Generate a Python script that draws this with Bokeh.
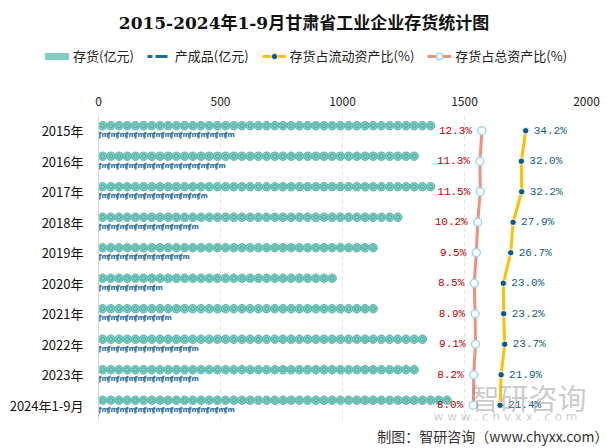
import numpy as np
from bokeh.plotting import figure
from bokeh.models import (ColumnDataSource, FactorRange, Range1d, Label, Title,
                          Legend, LegendItem, FixedTicker)
from bokeh.transform import dodge
from bokeh.core.properties import value
from bokeh.embed import file_html
from bokeh.resources import INLINE

# ---------------- data ----------------
years = ["2015年", "2016年", "2017年", "2018年", "2019年", "2020年",
         "2021年", "2022年", "2023年", "2024年1-9月"]
inventory = [1372, 1337, 1402, 1237, 1147, 976, 1147, 1341, 1334, 1470]   # 亿元
finished = [542, 511, 433, 424, 362, 265, 317, 413, 413, 542]             # 亿元
ratio_current = [34.2, 32.0, 32.2, 27.9, 26.7, 23.0, 23.2, 23.7, 21.9, 21.4]
ratio_total = [12.3, 11.3, 11.5, 10.2, 9.5, 8.5, 8.9, 9.1, 8.2, 8.0]
x_ticks = [0, 500, 1000, 1500, 2000]

CJK = "Noto Sans CJK SC"
MONO = "Liberation Mono"
TEAL, TEAL_D = "#7fcdc3", "#55b3a8"
BLUE = "#1d6c9a"
YEL, DOT = "#ffc000", "#0d5c80"
SALMON, RING = "#ef907d", "#9cd6ef"

W, H_TOP, H_MAIN = 607, 88, 360
LEFT = 98

# ---------------- header figure (title + legend), its own root ----------------
top = figure(width=W, height=H_TOP, output_backend="svg", toolbar_location=None,
             x_range=Range1d(0, 1), y_range=Range1d(0, 1),
             x_axis_type=None, y_axis_type=None,
             min_border=0, min_border_left=0, min_border_right=0,
             min_border_top=0, min_border_bottom=0)
top.grid.visible = False
top.outline_line_color = None
top.background_fill_color = "white"
top.border_fill_color = "white"

# legend proxies (their points lie outside the header's 0..1 view)
proxy = ColumnDataSource(dict(x=ratio_current, y=ratio_current))
g_inv = top.line(x="x", y="y", source=proxy, line_color=TEAL, line_width=7,
                 line_cap="round")
g_fin1 = top.line(x="x", y="y", source=proxy, line_color=BLUE, line_width=3,
                  line_dash="5 3 12")
g_c1 = top.line(x="x", y="y", source=proxy, line_color=YEL, line_width=3)
g_c2 = top.scatter(x="x", y="y", source=proxy, marker="circle", size=6.5,
                   fill_color=DOT, line_color="white", line_width=1)
g_t1 = top.line(x="x", y="y", source=proxy, line_color=SALMON, line_width=3)
g_t2 = top.scatter(x="x", y="y", source=proxy, marker="circle", size=8,
                   fill_color="white", line_color=RING, line_width=1.5)

legend = Legend(items=[
    LegendItem(label="存货(亿元)", renderers=[g_inv]),
    LegendItem(label="产成品(亿元)", renderers=[g_fin1]),
    LegendItem(label="存货占流动资产比(%)", renderers=[g_c1, g_c2]),
    LegendItem(label="存货占总资产比(%)", renderers=[g_t1, g_t2]),
], orientation="horizontal", location=(45, 23), glyph_width=24, glyph_height=16,
    label_standoff=4, spacing=13, padding=0, margin=0, border_line_color=None,
    background_fill_alpha=0, label_text_font=CJK, label_text_font_size="13px",
    label_text_color="#222222", label_height=16)
top.add_layout(legend, "center")

top.add_layout(Label(x=303.5, y=66, x_units="screen", y_units="screen",
                     text="2015-2024年1-9月甘肃省工业企业存货统计图",
                     text_font="'DejaVu Serif', 'Noto Sans CJK SC'",
                     text_font_size="17px", text_font_style="bold",
                     text_color="#111111", text_align="center", text_baseline="middle"))

# ---------------- main figure ----------------
p = figure(width=W, height=H_MAIN, output_backend="svg", toolbar_location=None,
           y_range=FactorRange(factors=list(reversed(years))),
           x_range=Range1d(0, 2000), x_axis_location="above",
           min_border_left=LEFT, min_border_right=21, min_border_top=27,
           min_border_bottom=26)
p.background_fill_color = "white"
p.border_fill_color = "white"
p.outline_line_color = None
p.extra_x_ranges = {"pct": Range1d(-179.4, 64.6)}

xa = p.xaxis[0]
xa.ticker = FixedTicker(ticks=x_ticks)
xa.axis_line_color = None
xa.major_tick_line_color = None
xa.minor_tick_line_color = None
xa.major_label_text_font = CJK
xa.major_label_text_font_size = "12px"
xa.major_label_text_color = "#222222"
xa.major_label_standoff = 4

ya = p.yaxis[0]
ya.axis_line_color = "#d6d6d6"
ya.major_tick_line_color = None
ya.minor_tick_line_color = None
ya.major_label_text_font = CJK
ya.major_label_text_font_size = "13px"
ya.major_label_text_color = "#111111"
ya.major_label_standoff = 9

p.ygrid.grid_line_color = None
p.xgrid.grid_line_color = "#e4e4e4"
p.xgrid.grid_line_dash = "4 3"
p.xgrid.ticker = FixedTicker(ticks=x_ticks[1:])

# pictorial bars
px_per_unit = 488 / 2000.0
inv_step = 8.2 / px_per_unit
fin_step = 9.0 / px_per_unit

ix, iy = [], []
for y, v in zip(years, inventory):
    for c in np.arange(inv_step / 2, v - inv_step * 0.3, inv_step):
        ix.append(c); iy.append(y)
inv_src = ColumnDataSource(dict(x=ix, y=iy))
p.scatter(x="x", y=dodge("y", 0.165, range=p.y_range), source=inv_src,
          marker="circle", size=8.4, fill_color=TEAL, line_color=TEAL_D, line_width=1)
p.scatter(x="x", y=dodge("y", 0.165, range=p.y_range), source=inv_src,
          marker="circle", size=4, fill_color=None, line_color="#4aa99e", line_width=1)

fx, fy = [], []
for y, v in zip(years, finished):
    for c in np.arange(0, v - fin_step * 0.6, fin_step):
        fx.append(c); fy.append(y)
fin_src = ColumnDataSource(dict(x=fx, y=fy, t=["ƒm"] * len(fx)))
p.text(x="x", y=dodge("y", -0.15, range=p.y_range), text="t", source=fin_src,
       text_font=value("DejaVu Sans"), text_font_size="7px", text_font_style="bold",
       text_color=BLUE, text_baseline="middle", text_align="left")

# ratio lines
rs = ColumnDataSource(dict(y=years, rc=ratio_current, rt=ratio_total,
                           lc=[f"{v:.1f}%" for v in ratio_current],
                           lt=[f"{v:.1f}%" for v in ratio_total]))
p.line(x="rt", y="y", source=rs, x_range_name="pct", line_color=SALMON, line_width=3)
p.scatter(x="rt", y="y", source=rs, x_range_name="pct", marker="circle",
          size=8, fill_color="white", line_color=RING, line_width=1.5)
p.line(x="rc", y="y", source=rs, x_range_name="pct", line_color=YEL, line_width=3)
p.scatter(x="rc", y="y", source=rs, x_range_name="pct", marker="circle",
          size=6.5, fill_color=DOT, line_color="white", line_width=1)

p.text(x="rt", y="y", text="lt", source=rs, x_range_name="pct", x_offset=-10,
       text_font=value(MONO), text_font_size="11px", text_color="#c00000",
       text_align="right", text_baseline="middle")
p.text(x="rc", y="y", text="lc", source=rs, x_range_name="pct", x_offset=8,
       text_font=value(MONO), text_font_size="11px", text_color="#13607f",
       text_align="left", text_baseline="middle")

# credits and watermark
p.add_layout(Title(text="制图：智研咨询（www.chyxx.com）", align="right", offset=-22,
                   standoff=6, text_font=CJK, text_font_size="14px",
                   text_font_style="normal", text_color="#333333"), "below")
p.add_layout(Label(x=372, y=24, x_units="screen", y_units="screen", text="智研咨询",
                   text_font=CJK, text_font_size="29px", text_color="#8a8a8a",
                   text_alpha=0.45, text_align="left", text_baseline="middle"))
p.add_layout(Label(x=335, y=4, x_units="screen", y_units="screen",
                   text="w w w . c h y x x . c o m",
                   text_font="DejaVu Sans", text_font_size="12px", text_color="#9a9a9a",
                   text_alpha=0.5, text_align="left", text_baseline="middle"))

# two separate roots, stacked: header above the chart
open("out.html", "w").write(file_html([top, p], INLINE))
